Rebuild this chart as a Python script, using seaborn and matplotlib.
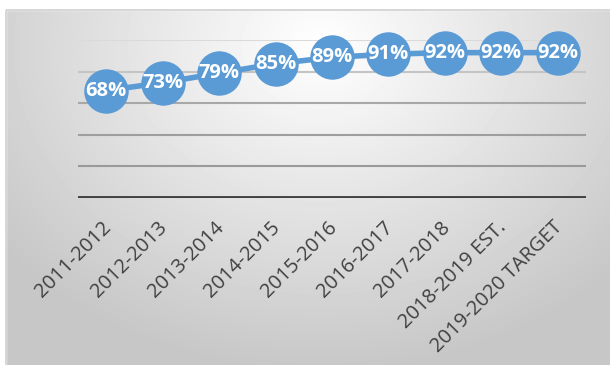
import numpy as np
import pandas as pd
import seaborn as sns
import matplotlib.pyplot as plt
import matplotlib.transforms as mtrans
from matplotlib.patches import Rectangle

# Datos del grafico
years = ['2011-2012', '2012-2013', '2013-2014', '2014-2015', '2015-2016',
         '2016-2017', '2017-2018', '2018-2019 EST.', '2019-2020 TARGET']
rates = [68, 73, 79, 85, 89, 91, 92, 92, 92]
yticks = [0, 20, 40, 60, 80, 100]

df = pd.DataFrame({'year': years, 'rate': rates})

sns.set_style('white')
plt.rcParams['font.family'] = ['Open Sans', 'DejaVu Sans']

W, H = 610, 365
fig = plt.figure(figsize=(W / 100, H / 100), dpi=100)

# Fondo con degradado radial (claro arriba al centro, gris en los bordes)
bg = fig.add_axes([0, 0, 1, 1], zorder=-1)
xx, yy = np.meshgrid(np.arange(W), np.arange(H))
r = np.sqrt(((xx - 320) / 420) ** 2 + ((yy - 45) / 340) ** 2)
shade = np.clip(1 - 0.23 * r, 0.78, 1.0)
bg.imshow(shade, cmap='gray', vmin=0, vmax=1, extent=(0, W, H, 0), aspect='auto')
bg.fill_between([0, W], 0, 10, color='white')
bg.fill_between([0, 6], 0, H, color='white')
bg.add_patch(Rectangle((6, 10), W, H, fill=False, ec='#cfcfcf', lw=1.2))
bg.set_xlim(0, W)
bg.set_ylim(H, 0)
bg.axis('off')

ax = fig.add_axes([78 / W, 1 - 198 / H, (586 - 78) / W, (198 - 40) / H])
ax.set_facecolor('none')

sns.lineplot(data=df, x='year', y='rate', ax=ax, color='#5B9BD5', linewidth=4,
             marker='o', markersize=32, markeredgewidth=0, clip_on=False, zorder=5)

for i, v in enumerate(rates):
    ax.text(i, v, f'{v}%', color='white', fontsize=14.5, fontweight='bold',
            ha='center', va='center', zorder=6)

ax.set_ylim(0, 100)
ax.set_xlim(-0.5, len(years) - 0.5)
ax.set_yticks(yticks)
ax.set_yticklabels([])
grid_colors = ['#404040', '#9a9a9a', '#9e9e9e', '#a8a8a8', '#c4c4c4', '#dadada']
for y, c in zip(yticks[1:], grid_colors[1:]):
    ax.axhline(y, color=c, lw=1.5, zorder=1)
ax.axhline(0, color='#404040', lw=3.5, zorder=2)

ax.set_xticks(range(len(years)))
ax.set_xticklabels(years, rotation=45, ha='right', va='top',
                   rotation_mode='anchor', fontsize=14.5, color='#404040')
ax.tick_params(axis='both', length=0)
ax.tick_params(axis='x', pad=14)
offset = mtrans.ScaledTranslation(-0.05, 0, fig.dpi_scale_trans)
for lab in ax.get_xticklabels():
    lab.set_transform(lab.get_transform() + offset)
ax.set_xlabel('')
ax.set_ylabel('')
for s in ax.spines.values():
    s.set_visible(False)

plt.savefig('out.png', dpi=100)
